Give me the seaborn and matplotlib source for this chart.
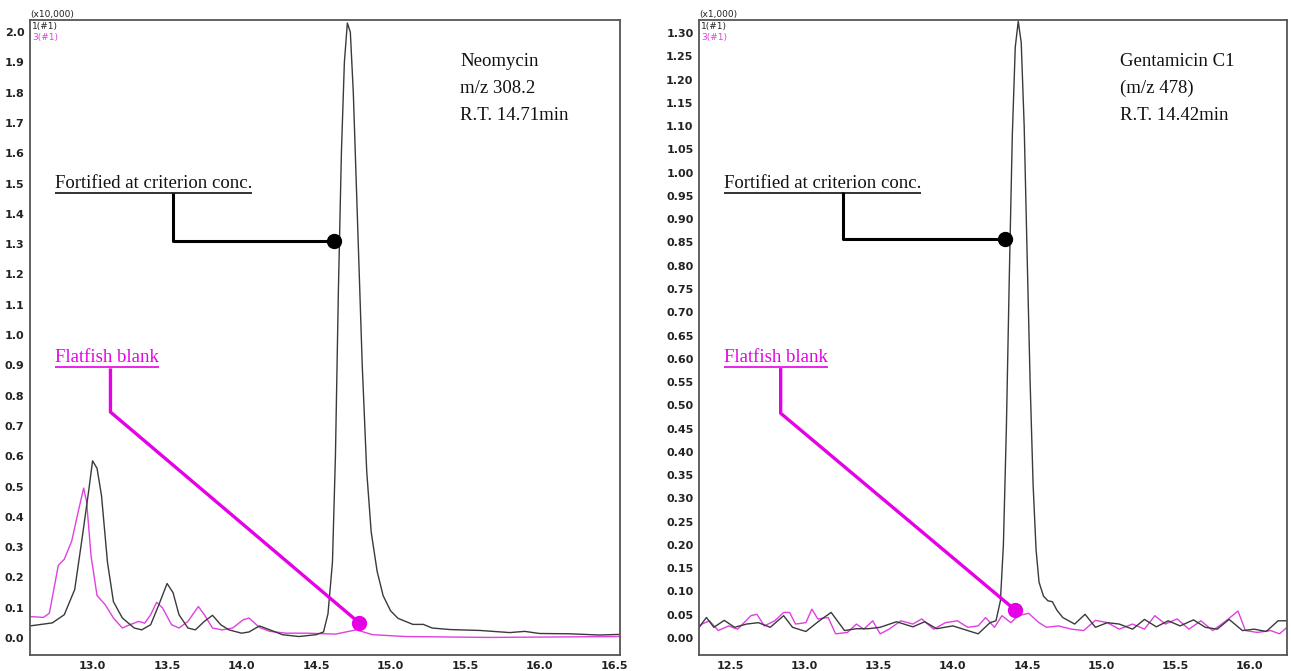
import numpy as np
import pandas as pd
import matplotlib
matplotlib.use("Agg")
import matplotlib.pyplot as plt
import seaborn as sns

# ==============================
# Data
# ==============================
# Neomycin, m/z 308.2 -- intensity in units of x10,000
neo_fort_t = [12.58, 12.73, 12.81, 12.88, 12.93, 12.975, 13.00, 13.03, 13.06, 13.10,
              13.14, 13.20, 13.28, 13.33, 13.39, 13.445, 13.50, 13.54, 13.58, 13.64,
              13.69, 13.75, 13.805, 13.86, 13.915, 14.00, 14.05, 14.12, 14.19, 14.275,
              14.385, 14.50, 14.55, 14.58, 14.61, 14.63, 14.65, 14.67, 14.69, 14.71,
              14.73, 14.75, 14.78, 14.81, 14.84, 14.87, 14.91, 14.95, 15.00, 15.05,
              15.10, 15.15, 15.22, 15.28, 15.40, 15.60, 15.80, 15.90, 16.00, 16.20,
              16.40, 16.54]
neo_fort_y = [0.040, 0.050, 0.077, 0.160, 0.330, 0.490, 0.585, 0.560, 0.470, 0.250,
              0.120, 0.066, 0.033, 0.027, 0.044, 0.110, 0.180, 0.150, 0.077, 0.033,
              0.027, 0.055, 0.075, 0.044, 0.027, 0.016, 0.020, 0.040, 0.027, 0.011,
              0.005, 0.011, 0.020, 0.080, 0.250, 0.600, 1.150, 1.600, 1.900, 2.030,
              2.000, 1.800, 1.350, 0.900, 0.550, 0.350, 0.220, 0.140, 0.090, 0.065,
              0.055, 0.045, 0.045, 0.033, 0.028, 0.025, 0.018, 0.022, 0.015, 0.014,
              0.010, 0.012]

neo_blank_t = [12.58, 12.67, 12.71, 12.77, 12.81, 12.86, 12.905, 12.94, 12.96, 12.99,
               13.03, 13.085, 13.14, 13.20, 13.25, 13.31, 13.35, 13.39, 13.43, 13.47,
               13.53, 13.58, 13.64, 13.71, 13.75, 13.805, 13.87, 13.94, 14.01, 14.05,
               14.12, 14.19, 14.30, 14.44, 14.63, 14.77, 14.88, 15.10, 15.66, 16.54]
neo_blank_y = [0.071, 0.068, 0.082, 0.240, 0.260, 0.320, 0.420, 0.495, 0.450, 0.270,
               0.140, 0.110, 0.066, 0.033, 0.044, 0.055, 0.049, 0.077, 0.118, 0.099,
               0.044, 0.033, 0.055, 0.104, 0.077, 0.033, 0.027, 0.033, 0.060, 0.066,
               0.035, 0.022, 0.016, 0.016, 0.013, 0.027, 0.011, 0.005, 0.002, 0.005]

# Gentamicin C1, m/z 478 -- intensity in units of x1,000
gen_fort_t = [12.29, 12.34, 12.39, 12.46, 12.53, 12.61, 12.69, 12.77, 12.86, 12.92,
              13.01, 13.10, 13.18, 13.27, 13.35, 13.43, 13.51, 13.62, 13.73, 13.81,
              13.89, 14.00, 14.09, 14.17, 14.25, 14.29, 14.32, 14.34, 14.36, 14.38,
              14.40, 14.42, 14.44, 14.46, 14.48, 14.50, 14.52, 14.54, 14.56, 14.58,
              14.61, 14.64, 14.67, 14.70, 14.74, 14.82, 14.89, 14.96, 15.04, 15.12,
              15.21, 15.29, 15.37, 15.45, 15.53, 15.62, 15.70, 15.78, 15.86, 15.95,
              16.03, 16.11, 16.19, 16.25]
gen_fort_y = [0.023, 0.044, 0.023, 0.038, 0.023, 0.030, 0.033, 0.023, 0.048, 0.023,
              0.014, 0.037, 0.055, 0.016, 0.020, 0.020, 0.023, 0.035, 0.024, 0.035,
              0.020, 0.026, 0.017, 0.009, 0.033, 0.037, 0.080, 0.200, 0.450, 0.780,
              1.080, 1.270, 1.325, 1.280, 1.100, 0.820, 0.550, 0.330, 0.190, 0.120,
              0.090, 0.080, 0.078, 0.060, 0.044, 0.030, 0.051, 0.023, 0.033, 0.030,
              0.019, 0.040, 0.024, 0.037, 0.026, 0.039, 0.023, 0.019, 0.040, 0.016,
              0.019, 0.014, 0.037, 0.037]

gen_blank_t = [12.29, 12.31, 12.36, 12.42, 12.49, 12.55, 12.64, 12.68, 12.73, 12.80,
               12.86, 12.90, 12.94, 13.01, 13.05, 13.09, 13.16, 13.21, 13.29, 13.35,
               13.40, 13.46, 13.51, 13.57, 13.65, 13.73, 13.79, 13.87, 13.95, 14.03,
               14.10, 14.17, 14.22, 14.28, 14.33, 14.39, 14.44, 14.51, 14.58, 14.63,
               14.71, 14.80, 14.88, 14.96, 15.04, 15.12, 15.21, 15.29, 15.36, 15.43,
               15.51, 15.59, 15.67, 15.75, 15.84, 15.92, 15.97, 16.05, 16.14, 16.20,
               16.25]
gen_blank_y = [0.023, 0.030, 0.037, 0.016, 0.026, 0.019, 0.048, 0.051, 0.026, 0.037,
               0.055, 0.055, 0.030, 0.033, 0.062, 0.041, 0.044, 0.009, 0.012, 0.030,
               0.019, 0.037, 0.009, 0.019, 0.037, 0.030, 0.041, 0.019, 0.033, 0.037,
               0.023, 0.026, 0.044, 0.023, 0.048, 0.033, 0.048, 0.053, 0.033, 0.023,
               0.026, 0.019, 0.016, 0.038, 0.033, 0.019, 0.030, 0.019, 0.048, 0.030,
               0.041, 0.019, 0.037, 0.016, 0.037, 0.058, 0.016, 0.012, 0.016, 0.009,
               0.023]

neo_xticks = [13.0, 13.5, 14.0, 14.5, 15.0, 15.5, 16.0, 16.5]
gen_xticks = [12.5, 13.0, 13.5, 14.0, 14.5, 15.0, 15.5, 16.0]
neo_label = ["Neomycin", "m/z 308.2", "R.T. 14.71min"]
gen_label = ["Gentamicin C1", "(m/z 478)", "R.T. 14.42min"]

BLACK = "#3a3a3a"
MAGENTA = "#e040e0"
CALLOUT_MAG = "#e600e6"

sns.set_style("white")
plt.rcParams["font.family"] = ["DejaVu Sans"]

fig = plt.figure(figsize=(12.91, 6.71), dpi=100)
ax1 = fig.add_axes([30 / 1291, 16 / 671, 590 / 1291, 635 / 671])
ax2 = fig.add_axes([699 / 1291, 16 / 671, 588 / 1291, 635 / 671])


def underlined(ax, x, y, s, color):
    t = ax.text(x, y, s, transform=ax.transAxes, fontsize=13.5,
                family="Liberation Serif", color=color, va="baseline", ha="left")
    fig.canvas.draw()
    bb = t.get_window_extent().transformed(ax.transAxes.inverted())
    ax.plot([bb.x0, bb.x1], [y - 0.008, y - 0.008], transform=ax.transAxes,
            color=color, lw=1.2, solid_capstyle="butt")


def panel(ax, fort_t, fort_y, blank_t, blank_y, xlim, ylim, xticks, ystep, yfmt,
          scale_txt, info, info_x, fort_path, blank_path):
    fort = pd.DataFrame({"t": fort_t, "y": fort_y})
    blank = pd.DataFrame({"t": blank_t, "y": blank_y})
    sns.lineplot(data=blank, x="t", y="y", ax=ax, color=MAGENTA, lw=1.0)
    sns.lineplot(data=fort, x="t", y="y", ax=ax, color=BLACK, lw=1.0)

    ax.set_xlim(*xlim)
    ax.set_ylim(*ylim)
    ax.set_xticks(xticks)
    ax.set_xticklabels([f"{v:.1f}" for v in xticks])
    yt = np.round(np.arange(0, ylim[1], ystep), 3)
    ax.set_yticks(yt)
    ax.set_yticklabels([yfmt.format(v) for v in yt])
    ax.set_xlabel("")
    ax.set_ylabel("")
    ax.tick_params(length=0, labelsize=8, pad=4, colors="#222222")
    for lab in ax.get_xticklabels() + ax.get_yticklabels():
        lab.set_fontweight("bold")
    for sp in ax.spines.values():
        sp.set_color("#555555")
        sp.set_linewidth(1.3)

    ax.text(0.0, 1.002, scale_txt, transform=ax.transAxes, fontsize=6.5,
            va="bottom", ha="left", color="#222222")
    ax.text(0.004, 0.997, "1(#1)", transform=ax.transAxes, fontsize=6.5,
            va="top", ha="left", color="#222222")
    ax.text(0.004, 0.980, "3(#1)", transform=ax.transAxes, fontsize=6.5,
            va="top", ha="left", color=MAGENTA)

    # compound info
    for i, s in enumerate(info):
        ax.text(info_x, 0.934 - i * 0.042, s, transform=ax.transAxes,
                fontsize=13.5, family="Liberation Serif", color="#111111",
                va="center", ha="left")

    # callouts
    fx, fy = zip(*fort_path)
    ax.plot(fx, fy, color="black", lw=2.2, solid_capstyle="butt", zorder=5)
    ax.plot(fx[-1], fy[-1], "o", color="black", ms=10, zorder=6)
    bx, by = zip(*blank_path)
    ax.plot(bx, by, color=CALLOUT_MAG, lw=2.4, solid_capstyle="butt", zorder=5)
    ax.plot(bx[-1], by[-1], "o", color=CALLOUT_MAG, ms=10, zorder=6)

    underlined(ax, 0.042, 0.735, "Fortified at criterion conc.", "#111111")
    underlined(ax, 0.042, 0.462, "Flatfish blank", CALLOUT_MAG)


panel(ax1, neo_fort_t, neo_fort_y, neo_blank_t, neo_blank_y,
      (12.58, 16.54), (-0.056, 2.04), neo_xticks, 0.1, "{:.1f}",
      "(x10,000)", neo_label, 0.729,
      [(13.54, 1.47), (13.54, 1.31), (14.62, 1.31)],
      [(13.12, 0.89), (13.12, 0.746), (14.79, 0.05)])

panel(ax2, gen_fort_t, gen_fort_y, gen_blank_t, gen_blank_y,
      (12.29, 16.25), (-0.0365, 1.328), gen_xticks, 0.05, "{:.2f}",
      "(x1,000)", gen_label, 0.716,
      [(13.26, 0.958), (13.26, 0.857), (14.35, 0.857)],
      [(12.84, 0.58), (12.84, 0.483), (14.42, 0.06)])

fig.savefig("out.png", dpi=100)
